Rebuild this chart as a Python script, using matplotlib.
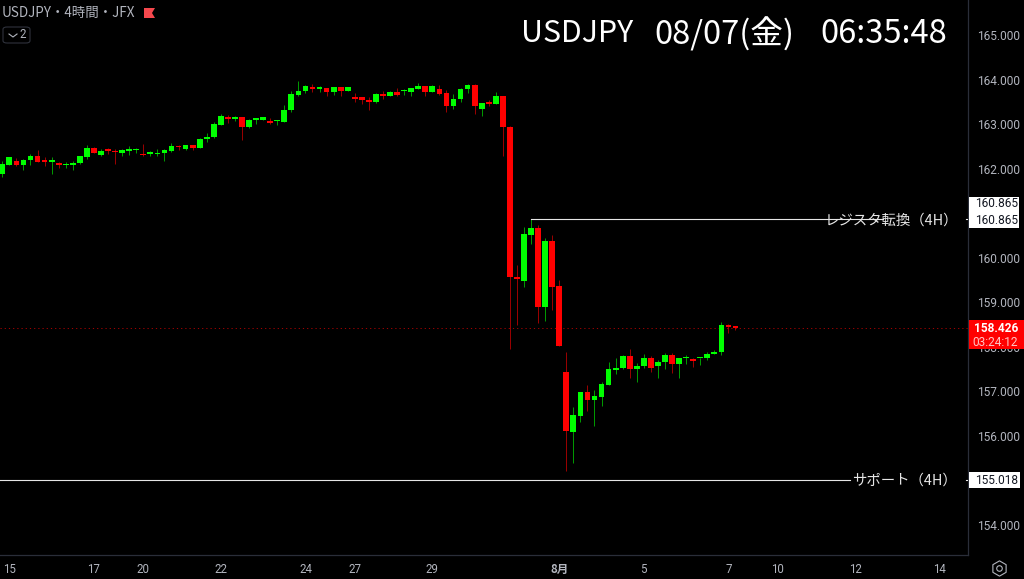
import matplotlib
matplotlib.use('Agg')
import matplotlib.pyplot as plt
from matplotlib.lines import Line2D
from matplotlib.patches import Rectangle, Polygon, FancyBboxPatch

opens = [161.89, 162.09, 162.18, 162.08, 162.19, 162.29, 162.16, 162.15, 162.12, 162.08,
         162.08, 162.12, 162.27, 162.47, 162.31, 162.42, 162.40, 162.36, 162.40, 162.41,
         162.33, 162.33, 162.32, 162.35, 162.39, 162.51, 162.44, 162.53, 162.47, 162.67,
         162.70, 162.98, 163.13, 163.11, 163.15, 162.93, 163.10, 163.09, 163.07, 163.06,
         163.05, 163.32, 163.65, 163.74, 163.81, 163.79, 163.81, 163.71, 163.83, 163.75,
         163.60, 163.60, 163.55, 163.49, 163.67, 163.63, 163.73, 163.74, 163.72, 163.79,
         163.85, 163.72, 163.78, 163.69, 163.41, 163.56, 163.78, 163.88, 163.34, 163.48,
         163.46, 163.63, 162.94, 159.57, 159.48, 160.52, 160.67, 158.90, 160.37, 159.37,
         157.44, 156.10, 156.45, 156.98, 156.81, 156.87, 157.15, 157.49, 157.52, 157.79,
         157.51, 157.57, 157.74, 157.56, 157.65, 157.81, 157.62, 157.74, 157.72, 157.74,
         157.74, 157.83, 157.88, 158.49, 158.44]
highs = [162.18, 162.27, 162.23, 162.22, 162.33, 162.42, 162.26, 162.26, 162.14, 162.15,
         162.17, 162.29, 162.54, 162.48, 162.44, 162.47, 162.44, 162.44, 162.51, 162.47,
         162.56, 162.40, 162.44, 162.44, 162.58, 162.53, 162.54, 162.54, 162.68, 162.79,
         163.05, 163.23, 163.21, 163.19, 163.16, 163.11, 163.12, 163.16, 163.14, 163.09,
         163.43, 163.74, 163.97, 163.87, 163.91, 163.86, 163.82, 163.84, 163.84, 163.84,
         163.69, 163.61, 163.60, 163.69, 163.74, 163.75, 163.82, 163.78, 163.81, 163.93,
         163.86, 163.87, 163.87, 163.76, 163.67, 163.81, 163.89, 163.89, 163.48, 163.54,
         163.71, 163.64, 162.95, 159.84, 160.68, 160.865, 160.74, 160.45, 160.52, 159.50,
         157.88, 156.64, 156.99, 157.14, 157.03, 157.22, 157.66, 157.74, 157.82, 157.95,
         157.63, 157.84, 157.80, 157.70, 157.86, 157.86, 157.75, 157.81, 157.74, 157.75,
         157.89, 157.92, 158.55, 158.51, 158.45]
lows = [161.82, 162.08, 162.06, 161.96, 162.08, 162.14, 162.06, 161.88, 162.02, 162.02,
        161.97, 162.11, 162.21, 162.35, 162.29, 162.33, 162.11, 162.29, 162.31, 162.35,
        162.29, 162.29, 162.29, 162.18, 162.38, 162.41, 162.43, 162.42, 162.46, 162.60,
        162.69, 162.97, 163.02, 163.07, 162.65, 162.92, 163.01, 163.09, 163.01, 162.98,
        163.04, 163.28, 163.64, 163.70, 163.73, 163.71, 163.64, 163.66, 163.63, 163.74,
        163.50, 163.45, 163.31, 163.48, 163.57, 163.62, 163.64, 163.65, 163.64, 163.78,
        163.62, 163.72, 163.66, 163.27, 163.33, 163.49, 163.70, 163.22, 163.19, 163.40,
        163.45, 162.28, 157.95, 158.49, 159.35, 160.31, 158.54, 158.57, 158.83, 158.01,
        155.21, 155.39, 156.31, 156.55, 156.23, 156.67, 157.14, 157.39, 157.50, 157.30,
        157.21, 157.53, 157.44, 157.30, 157.50, 157.41, 157.30, 157.62, 157.55, 157.59,
        157.71, 157.83, 157.82, 158.30, 158.38]
closes = [162.10, 162.26, 162.08, 162.20, 162.29, 162.15, 162.15, 162.19, 162.08, 162.09,
          162.13, 162.28, 162.47, 162.35, 162.40, 162.40, 162.37, 162.41, 162.42, 162.42,
          162.30, 162.34, 162.36, 162.41, 162.51, 162.48, 162.53, 162.47, 162.67, 162.72,
          163.00, 163.19, 163.12, 163.16, 162.93, 163.09, 163.12, 163.15, 163.03, 163.08,
          163.32, 163.67, 163.74, 163.85, 163.79, 163.81, 163.71, 163.83, 163.75, 163.84,
          163.56, 163.54, 163.50, 163.68, 163.63, 163.73, 163.65, 163.75, 163.80, 163.86,
          163.72, 163.85, 163.68, 163.40, 163.56, 163.78, 163.88, 163.41, 163.47, 163.46,
          163.63, 162.93, 159.56, 159.52, 160.53, 160.67, 158.90, 160.37, 159.35, 158.02,
          156.11, 156.46, 156.98, 156.81, 156.89, 157.17, 157.50, 157.53, 157.79, 157.51,
          157.58, 157.74, 157.53, 157.65, 157.81, 157.61, 157.74, 157.77, 157.68, 157.75,
          157.84, 157.89, 158.49, 158.45, 158.426]

price_ticks = [154, 155, 156, 157, 158, 159, 160, 161, 162, 163, 164, 165]
price_labels = ['154.000', '', '156.000', '157.000', '158.000', '159.000', '160.000', '',
                '162.000', '163.000', '164.000', '165.000']
date_ticks = [1, 13, 20, 31, 43, 50, 61, 79, 91, 103, 110, 121, 133]
date_labels = ['15', '17', '20', '22', '24', '27', '29', '8月', '5', '7', '10', '12', '14']
resistance = 160.865
resistance_start = 75
resistance_name = 'レジスタ転換（4H）'
support = 155.018
support_name = 'サポート（4H）'
last_price = 158.426
countdown = '03:24:12'
title_parts = ['USDJPY', '08/07(金)', '06:35:48']
symbol = 'USDJPY・4時間・JFX'

W, H = 1024, 579
UP, DOWN = '#00ff00', '#ff0000'
GRAY = '#b2b5be'
LINE = '#2a2e39'
FONTS = ['Roboto', 'Noto Sans CJK JP', 'DejaVu Sans']
CJK = ['Noto Sans CJK JP', 'DejaVu Sans']


def fx(px):
    return px / W


def fy(py):
    return 1 - py / H


def px_rect(x0, y0, x1, y1, **kw):
    fig.add_artist(Rectangle((fx(x0), fy(y1)), (x1 - x0) / W, (y1 - y0) / H,
                             transform=fig.transFigure, linewidth=0, **kw))


plt.rcParams['font.family'] = FONTS
fig = plt.figure(figsize=(W / 100, H / 100), dpi=100, facecolor='black')
ax = fig.add_axes([0, 1 - 555 / H, 968 / W, 555 / H], facecolor='black')

xs = list(range(len(opens)))
colors = [UP if c >= o else DOWN for o, c in zip(opens, closes)]
ax.vlines(xs, lows, highs, colors=colors, linewidth=0.72, alpha=0.6, zorder=2)
heights = [max(abs(c - o), 0.035) for o, c in zip(opens, closes)]
bottoms = [min(o, c) for o, c in zip(opens, closes)]
ax.bar(xs, heights, bottom=bottoms, width=0.82, color=colors, linewidth=0, zorder=3)

ax.set_xlim(-0.326, 136.98)
ax.set_ylim(153.328, 165.786)

ax.axhline(last_price, color='#a00000', linewidth=0.72, linestyle=(0, (1.2, 3)), zorder=1)
ax.plot([resistance_start, 124.9], [resistance, resistance], color='#e6e6e6', linewidth=0.8, zorder=4)
ax.plot([136.7, 136.98], [resistance, resistance], color='#e6e6e6', linewidth=0.8, zorder=4)
ax.plot([-0.326, 120.2], [support, support], color='#e6e6e6', linewidth=0.8, zorder=4)
ax.plot([136.7, 136.98], [support, support], color='#e6e6e6', linewidth=0.8, zorder=4)
ax.annotate(resistance_name, (126.1, resistance), xytext=(0, -1), textcoords='offset points',
            color='#e6e6e6', fontsize=10.4, family=CJK, ha='center', va='center', zorder=5)
ax.annotate(support_name, (127.9, support), xytext=(0, -1), textcoords='offset points',
            color='#e6e6e6', fontsize=10.4, family=CJK, ha='center', va='center', zorder=5)

ax.yaxis.tick_right()
ax.set_yticks(price_ticks)
ax.set_yticklabels(price_labels)
ax.set_xticks(date_ticks)
ax.set_xticklabels(date_labels)
ax.tick_params(axis='y', length=0, pad=6.2, labelsize=8.6, labelcolor=GRAY)
ax.tick_params(axis='x', length=0, pad=5.5, labelsize=8.3, labelcolor=GRAY)
for lab in ax.get_xticklabels():
    if lab.get_text() == '8月':
        lab.set_fontweight('bold')
        lab.set_family(CJK)
for side in ('top', 'left'):
    ax.spines[side].set_visible(False)
for side in ('right', 'bottom'):
    ax.spines[side].set_color(LINE)
    ax.spines[side].set_linewidth(0.9)

# price labels on the right
px_rect(969, 197, 1019, 228, facecolor='white', zorder=5)
fig.text(fx(1018), fy(204), f'{resistance:.3f}', color='#131722', fontsize=8.6, ha='right', va='center', zorder=6)
fig.text(fx(1018), fy(220), f'{resistance:.3f}', color='#131722', fontsize=8.6, ha='right', va='center', zorder=6)
px_rect(969, 472, 1020, 488, facecolor='white', zorder=5)
fig.text(fx(1018), fy(480), f'{support:.3f}', color='#131722', fontsize=8.6, ha='right', va='center', zorder=6)
px_rect(969, 320, 1024, 349, facecolor='#ff0000', zorder=5)
fig.text(fx(1018), fy(329), f'{last_price:.3f}', color='white', fontsize=8.6, fontweight='bold', ha='right', va='center', zorder=6)
fig.text(fx(1018), fy(342), countdown, color='#ffc4c4', fontsize=8.6, ha='right', va='center', zorder=6)

# header
for part, left, size in zip(title_parts, [521, 654, 820], [21.8, 23.5, 23.5]):
    fig.text(fx(left), fy(34), part, color='white', fontsize=size, ha='left', va='center', family=CJK)
fig.text(fx(2), fy(13), symbol, color=GRAY, fontsize=9.7, ha='left', va='center', family=CJK)
fig.add_artist(Polygon([(fx(144), fy(8)), (fx(155), fy(8)), (fx(152), fy(13)), (fx(155), fy(18)), (fx(144), fy(18))],
                       closed=True, facecolor='#f5484d', linewidth=0, transform=fig.transFigure))
fig.add_artist(FancyBboxPatch((fx(3), fy(43)), 27 / W, 16 / H, boxstyle='round,pad=0,rounding_size=0.004',
                              facecolor='none', edgecolor='#2f323c', linewidth=0.8, transform=fig.transFigure))
fig.add_artist(Line2D([fx(9), fx(13), fx(17)], [fy(34), fy(37), fy(34)], color=GRAY, linewidth=0.8, transform=fig.transFigure))
fig.text(fx(23), fy(35), '2', color=GRAY, fontsize=8.3, ha='center', va='center')

# settings icon
fig.add_artist(Line2D([fx(999)], [fy(568)], marker='h', markersize=11, markerfacecolor='none',
                      markeredgecolor=GRAY, markeredgewidth=0.8, transform=fig.transFigure))
fig.add_artist(Line2D([fx(999)], [fy(568)], marker='o', markersize=4, markerfacecolor='none',
                      markeredgecolor=GRAY, markeredgewidth=0.8, transform=fig.transFigure))

fig.savefig('out.png', dpi=100, facecolor='black')
